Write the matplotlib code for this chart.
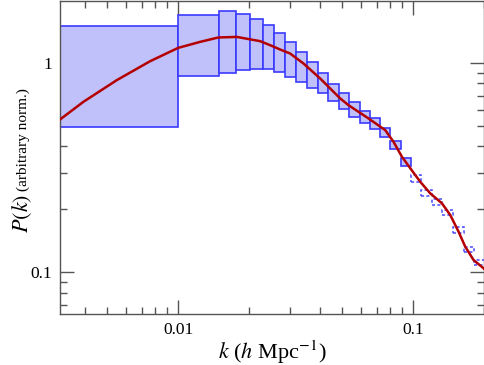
import numpy as np
import matplotlib
matplotlib.use("Agg")
import matplotlib.pyplot as plt

plt.rcParams['font.family'] = ['Liberation Serif', 'DejaVu Serif']
plt.rcParams['mathtext.fontset'] = 'stix'

# band edges in k (h/Mpc)
k_edges = np.array([0.001, 0.01, 0.0149, 0.0177, 0.0203, 0.0229, 0.0256, 0.0285, 0.0318,
                    0.0353, 0.0392, 0.0435, 0.0481, 0.0534, 0.0591, 0.0653, 0.0724,
                    0.080, 0.0883, 0.0978])
# band power ranges (solid boxes)
p_top = np.array([1.507, 1.704, 1.777, 1.722, 1.634, 1.518, 1.395, 1.264, 1.132, 1.008,
                  0.899, 0.794, 0.717, 0.649, 0.593, 0.545, 0.490, 0.423, 0.353])
p_bot = np.array([0.495, 0.864, 0.899, 0.926, 0.936, 0.936, 0.906, 0.857, 0.811, 0.764,
                  0.717, 0.661, 0.601, 0.552, 0.517, 0.484, 0.442, 0.387, 0.324])

# dashed boxes at small scales
k_edges_d = np.array([0.0978, 0.108, 0.120, 0.133, 0.148, 0.164, 0.181, 0.201, 0.222])
pd_top = np.array([0.292, 0.249, 0.2235, 0.1987, 0.1643, 0.1319, 0.1147, 0.103])
pd_bot = np.array([0.271, 0.2326, 0.210, 0.188, 0.155, 0.1249, 0.1086, 0.095])

# model curve
k_curve = np.array([0.003148, 0.003954, 0.005484, 0.007602, 0.01, 0.0124, 0.01484, 0.01778,
                    0.02233, 0.02463, 0.02717, 0.02996, 0.03412, 0.0402, 0.04891, 0.05305,
                    0.06452, 0.07601, 0.08244, 0.08955, 0.102, 0.1071, 0.1181, 0.1325,
                    0.1437, 0.1559, 0.1664, 0.1805, 0.1991, 0.205])
p_curve = np.array([0.5385, 0.6535, 0.8296, 1.022, 1.183, 1.264, 1.327, 1.335,
                    1.274, 1.219, 1.162, 1.112, 0.997, 0.845, 0.6784, 0.630,
                    0.5445, 0.4788, 0.421, 0.357, 0.292, 0.2713, 0.2388, 0.2139,
                    0.1881, 0.1565, 0.1328, 0.1147, 0.1047, 0.1010])

fig = plt.figure(figsize=(4.85, 3.65), dpi=100)
ax = fig.add_axes([0.124, 0.14, 0.874, 0.857])
ax.set_xscale('log')
ax.set_yscale('log')

ax.bar(k_edges[:-1], p_top - p_bot, width=np.diff(k_edges), bottom=p_bot, align='edge',
       color='#c0c0fa', edgecolor='#3a3aff', linewidth=1.2, zorder=2)
ax.bar(k_edges_d[:-1], pd_top - pd_bot, width=np.diff(k_edges_d), bottom=pd_bot, align='edge',
       fill=False, edgecolor='#4a4aff', linewidth=1.1, linestyle=(0, (2, 1.5)), zorder=2)
ax.plot(k_curve, p_curve, color='#b40000', linewidth=1.8, zorder=3)

ax.set_xlim(0.00315, 0.2)
ax.set_ylim(0.0634, 1.98)
ax.set_xticks([0.01, 0.1])
ax.set_xticklabels(['0.01', '0.1'])
ax.set_yticks([0.1, 1])
ax.set_yticklabels(['0.1', '1'])

for s in ax.spines.values():
    s.set_color('#555555')
    s.set_linewidth(1.0)
ax.tick_params(which='both', direction='in', top=True, right=True, color='#555555',
               labelsize=12.5)
ax.tick_params(which='major', length=10, width=1.0, pad=6)
ax.tick_params(which='minor', length=5, width=1.0)

ax.set_xlabel(r'$k$ ($h$ Mpc$^{-1}$)', fontsize=16, labelpad=0)
fig.text(0.045, 0.416, r'$P(k)$', rotation=90, fontsize=16, ha='center', va='center')
fig.text(0.047, 0.617, '(arbitrary norm.)', rotation=90, fontsize=11, ha='center', va='center')

fig.savefig('out.png', dpi=100)
